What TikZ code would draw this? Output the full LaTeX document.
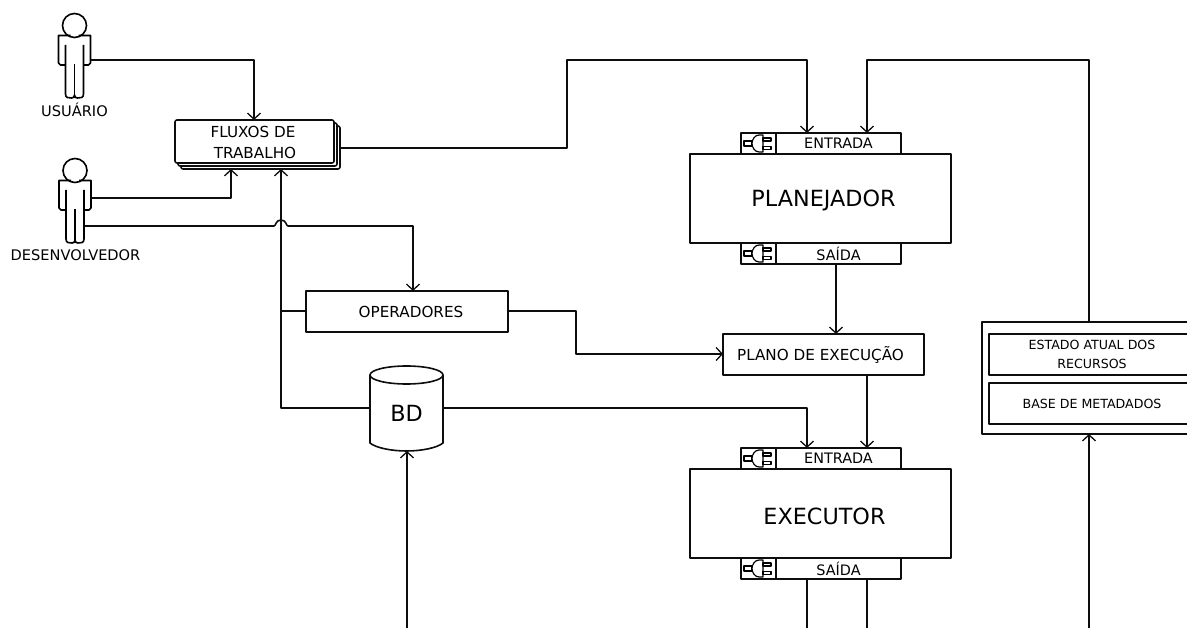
\documentclass[tikz,border=0pt]{standalone}
\usepackage{fontspec}
\setmainfont{DejaVu Sans}
\usetikzlibrary{arrows.meta,shapes.geometric}
\newcommand{\fs}[1]{\fontsize{#1}{#1}\selectfont}
\tikzset{
  every picture/.style={x=1pt,y=-1pt,line width=1.6pt,line join=round},
  conn/.style={draw=black!95,-{Straight Barb[length=6pt,width=13pt,line width=1.3pt]}},
  wire/.style={draw=black!95},
  lbl/.style={font=\fs{15.2},inner sep=0pt,text=black},
  actorlbl/.style={font=\fs{14.6},inner sep=0pt,text=black},
  biglbl/.style={font=\fs{22.3},inner sep=0pt,text=black},
  smalllbl/.style={font=\fs{12.6},inner sep=0pt,text=black},
  boxx/.style={draw=black!95,fill=white,inner sep=0pt,outer sep=0pt,font=\fs{15.2},text=black,align=center},
  bigbox/.style={boxx,minimum width=261pt,minimum height=89pt},
  portbox/.style={boxx,minimum width=125pt,minimum height=21pt,font=\fs{14.4}},
  plugbox/.style={boxx,minimum width=35pt,minimum height=21pt},
  pics/plug/.style={code={
    \draw[line width=1.1pt] (-11,-2.5) rectangle (-3,2.5);
    \draw[line width=1.2pt,fill=white] (8,-8.5) -- (4,-8.5) .. controls (0,-8.5) and (-3,-4) .. (-3,0) .. controls (-3,4) and (0,8.5) .. (4,8.5) -- (8,8.5) -- cycle;
    \draw[line width=1.1pt,fill=white] (8,-5.5) rectangle (16,-2.5);
    \draw[line width=1.1pt,fill=white] (8,3) rectangle (16,6);
  }},
  pics/actor/.style={code={
    \draw (0,-10.5) circle (12);
    \draw (-4,-0.5) -- (-16,-0.5) -- (-16,27) -- (-14,29) -- (-9,29) (-9,9) -- (-9,58) .. controls (-9,62) and (-6,62) .. (-3,62) .. controls (-1,62) and (0,61) .. (0,59) .. controls (0,61) and (1,62) .. (3,62) .. controls (6,62) and (9,62) .. (9,58) -- (9,9) (9,29) -- (14,29) -- (16,27) -- (16,-0.5) -- (4,-0.5);
    \draw (0,28) -- (0,59);
  }}
}
\begin{document}
\begin{tikzpicture}
\useasboundingbox (0,0) rectangle (1187,628);
\clip (0,0) rectangle (1187,628);
% actors
\pic at (74.5,36) {actor};
\pic at (75,181) {actor};
\node[actorlbl] (usuario) at (74.5,110) {USUÁRIO};
\node[actorlbl] (dev) at (75.5,255) {DESENVOLVEDOR};
\coordinate (uout) at (90.5,60);
\coordinate (dout) at (91,198);
\coordinate (dout2) at (85,226);
% fluxos
\draw[rounded corners=2pt,fill=white,draw=black!95] (181,126) rectangle (340,169);
\draw[rounded corners=2pt,fill=white,draw=black!95] (178,123) rectangle (337,166);
\node[boxx,rounded corners=2pt,minimum width=159pt,minimum height=43pt,anchor=north west] (fluxos) at (175,120) {};
\node[lbl] (fl1) at (253,132) {FLUXOS DE};
\node[lbl] (fl2) at (255,153) {TRABALHO};
\coordinate (flback) at (340,148);
\coordinate (flbot1) at (231,169);
\coordinate (flbot2) at (281,169);
\coordinate (fltop) at (254,120);
% operadores
\node[boxx,minimum width=202pt,minimum height=41pt,anchor=north west] (oper) at (306,291) {\hspace*{8pt}OPERADORES};
\coordinate (opertop) at (413,291);
\coordinate (operw) at (306,311);
\coordinate (opere) at (508,311);
% BD
\draw[fill=white,draw=black!95] (370,375) -- (370,443) .. controls (376,448) and (392,451) .. (406.5,451) .. controls (421,451) and (437,448) .. (443,443) -- (443,375) -- cycle;
\draw[fill=white,draw=black!95] (406.5,375) ellipse (36.5 and 9);
\node[biglbl] (bd) at (406.5,413.5) {BD};
\coordinate (bdl) at (370,408);
\coordinate (bdr) at (443,408);
\coordinate (bdb) at (407,451);
% planejador
\node[plugbox,anchor=north west] (pe) at (741,133) {};
\node[portbox,anchor=north west] (pein) at (776,133) {\raisebox{-1pt}{ENTRADA}};
\node[plugbox,anchor=north west] (ps) at (741,243) {};
\node[portbox,anchor=north west] (psout) at (776,243) {SAÍDA};
\node[bigbox,anchor=north west] (plan) at (690,154) {};
\node[biglbl] (planl) at (823.5,200) {PLANEJADOR};
\pic at (755,143.5) {plug};
\pic at (755,253.5) {plug};
% plano
\node[boxx,minimum width=201pt,minimum height=41pt,anchor=north west] (plano) at (723,334) {\hspace*{-6pt}PLANO DE EXECUÇÃO};
\coordinate (planow) at (723,354);
% executor
\node[plugbox,anchor=north west] (ee) at (741,448) {};
\node[portbox,anchor=north west] (eein) at (776,448) {\raisebox{-1pt}{ENTRADA}};
\node[plugbox,anchor=north west] (es) at (741,558) {};
\node[portbox,anchor=north west] (esout) at (776,558) {SAÍDA};
\node[bigbox,anchor=north west] (exec) at (690,469) {};
\node[biglbl] (execl) at (824.5,516) {EXECUTOR};
\pic at (755,458.5) {plug};
\pic at (755,568.5) {plug};
% recursos
\node[boxx,minimum width=230pt,minimum height=112pt,anchor=north west] (rec) at (982,322) {};
\node[boxx,minimum width=206pt,minimum height=41pt,anchor=north west] (est) at (989,334) {};
\node[smalllbl] (est1) at (1092,345) {ESTADO ATUAL DOS};
\node[smalllbl] (est2) at (1092,364) {RECURSOS};
\node[boxx,minimum width=206pt,minimum height=41pt,anchor=north west,font=\fs{12.6}] (base) at (989,383) {BASE DE METADADOS};
% free ends
\coordinate (b1) at (407,628);
\coordinate (b2) at (807,628);
\coordinate (b3) at (867,628);
\coordinate (b4) at (1089,628);
\coordinate (rectop) at (1089,322);
\coordinate (recbot) at (1089,434);
\coordinate (j1) at (274,226);
\coordinate (j2) at (288,226);
\coordinate (pin1) at (807,133);
\coordinate (pin2) at (867,133);
\coordinate (ein1) at (807,448);
\coordinate (ein2) at (867,448);
\coordinate (pso) at (836,264);
\coordinate (plt) at (836,334);
\coordinate (plb) at (867,375);
\coordinate (es1) at (807,579);
\coordinate (es2) at (867,579);
% connectors
\draw[conn] (uout) -| (fltop);
\draw[conn] (dout) -| (flbot1);
\draw[conn] (bdl) -| (flbot2);
\draw[wire] (operw) -- (operw -| flbot2);
\draw[conn] (dout2) -- (j1) .. controls (276,226) and (275.5,220) .. (281,220) .. controls (286.5,220) and (286,226) .. (j2) -| (opertop);
\draw[conn] (flback) -- (567,148) -- (567,60) -| (pin1);
\draw[conn] (rectop) -- (1089,60) -| (pin2);
\draw[conn] (pso) -- (plt);
\draw[conn] (opere) -- (576,311) |- (planow);
\draw[conn] (plb) -- (ein2);
\draw[conn] (bdr) -| (ein1);
\draw[conn] (b1) -- (bdb);
\draw[conn] (b4) -- (recbot);
\draw[wire] (es1) -- (b2);
\draw[wire] (es2) -- (b3);
\end{tikzpicture}
\end{document}
